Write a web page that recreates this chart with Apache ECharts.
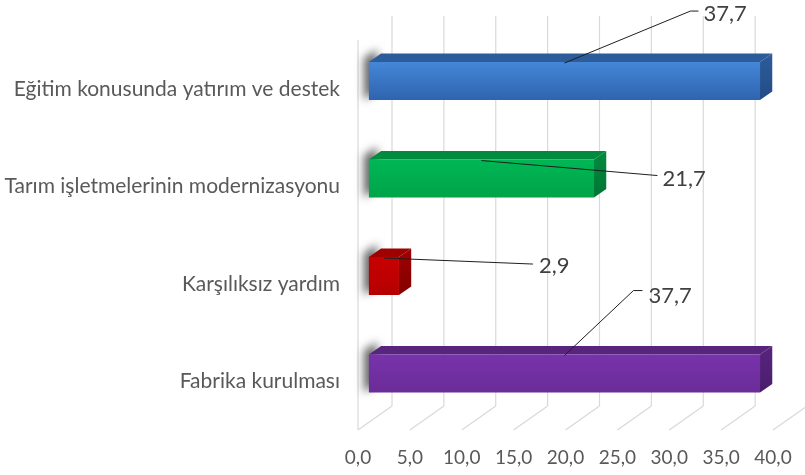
<!DOCTYPE html>
<html>
<head>
<meta charset="utf-8">
<script src="https://cdn.jsdelivr.net/npm/echarts@6/dist/echarts.min.js"></script>
<style>
  html, body { margin: 0; padding: 0; background: #ffffff; }
  #chart { width: 805px; height: 475px; }
</style>
</head>
<body>
<div id="chart"></div>
<script>
// Categories (top to bottom) and their percentages
const categories = [
  'Eğitim konusunda yatırım ve destek',
  'Tarım işletmelerinin modernizasyonu',
  'Karşılıksız yardım',
  'Fabrika kurulması'
];
const values = [37.7, 21.7, 2.9, 37.7];
const tickValues = [0, 5, 10, 15, 20, 25, 30, 35, 40];

// Face colours for each bar: [front top, front bottom, top face, side face]
const barColors = [
  ['#4486d8', '#2f64ae', '#2d5c9b', '#234c86'],
  ['#00b755', '#00a448', '#008b3e', '#007534'],
  ['#c80000', '#b50000', '#9f0000', '#850000'],
  ['#7833aa', '#6a2c98', '#57247e', '#4a1e6c']
];

// Oblique depth vector of the 3D box (pixels, front plane -> back wall)
const DEPTH = [34, -24];
const BAR_FRONT = 0.32, BAR_BACK = 0.68, BAR_THICK = 0.39;

// Leader line / label placement relative to the bar's midpoint on its top edge
const labelLayout = [
  { pts: [[126, -52], [134, -52]], text: [139, -49] },
  { pts: [[176, 15]], text: [181, 18] },
  { pts: [[149, 6]], text: [155, 8] },
  { pts: [[69, -65], [78, -65]], text: [84, -60] }
];

const FONT = 'Lato';
const fmt = v => v.toFixed(1).replace('.', ',');

function renderWall(params, api) {
  const v = api.value(0);
  const cs = params.coordSys;
  const x = api.coord([v, 0])[0];
  const top = cs.y, bottom = cs.y + cs.height;
  const line = { stroke: '#d9d9d9', lineWidth: 1.2 };
  const children = [
    { type: 'line', shape: { x1: x + DEPTH[0], y1: top + DEPTH[1], x2: x + DEPTH[0], y2: bottom + DEPTH[1] }, style: line },
    { type: 'line', shape: { x1: x, y1: bottom, x2: x + DEPTH[0], y2: bottom + DEPTH[1] }, style: line }
  ];
  if (v === 0) {
    children.push({ type: 'line', shape: { x1: x, y1: top, x2: x, y2: bottom }, style: line });
  }
  return { type: 'group', children };
}

function renderBar(params, api) {
  const val = api.value(0);
  const cat = api.value(1);
  const idx = params.dataIndex;
  const band = api.size([0, 1])[1];
  const base = api.coord([0, cat]);
  const end = api.coord([val, cat]);
  const mid = api.coord([val / 2, cat]);
  const h = band * BAR_THICK;
  const fx = DEPTH[0] * BAR_FRONT, fy = DEPTH[1] * BAR_FRONT;
  const dx = DEPTH[0] * (BAR_BACK - BAR_FRONT), dy = DEPTH[1] * (BAR_BACK - BAR_FRONT);
  const xl = base[0] + fx, xr = end[0] + fx;
  const yc = base[1] + fy;
  const yt = yc - h / 2, yb = yc + h / 2;
  const c = barColors[idx];
  const OFF = 2000;

  const children = [];
  // soft shadow of the bar's left end on the side wall (shape is kept
  // off-canvas, only its blurred shadow lands next to the bar)
  children.push({
    type: 'polygon',
    shape: { points: [[xl - 5 - OFF, yt - 4], [xl + dx - 4 - OFF, yt + dy - 4], [xl + dx - 4 - OFF, yb + dy], [xl - 5 - OFF, yb]] },
    style: { fill: '#000', shadowBlur: 8, shadowOffsetX: OFF, shadowColor: 'rgba(0,0,0,0.6)' }
  });
  // top face
  children.push({
    type: 'polygon',
    shape: { points: [[xl, yt], [xr, yt], [xr + dx, yt + dy], [xl + dx, yt + dy]] },
    style: { fill: c[2] }
  });
  // right side face
  children.push({
    type: 'polygon',
    shape: { points: [[xr, yt], [xr + dx, yt + dy], [xr + dx, yb + dy], [xr, yb]] },
    style: {
      fill: new echarts.graphic.LinearGradient(0, 0, 0, 1, [
        { offset: 0, color: c[2] }, { offset: 1, color: c[3] }
      ])
    }
  });
  // front face
  children.push({
    type: 'rect',
    shape: { x: xl, y: yt, width: xr - xl, height: h },
    style: {
      fill: new echarts.graphic.LinearGradient(0, 0, 0, 1, [
        { offset: 0, color: c[0] }, { offset: 1, color: c[1] }
      ])
    }
  });

  // leader line and value label
  const sx = mid[0] + fx, sy = yt + 1;
  const lay = labelLayout[idx];
  const pts = [[sx, sy]].concat(lay.pts.map(p => [sx + p[0], sy + p[1]]));
  children.push({
    type: 'polyline',
    shape: { points: pts },
    style: { stroke: '#1f1f1f', lineWidth: 1, fill: null }
  });
  children.push({
    type: 'text',
    style: {
      x: sx + lay.text[0], y: sy + lay.text[1],
      text: fmt(val),
      fill: '#404040',
      font: '22px ' + FONT,
      align: 'left', verticalAlign: 'middle'
    }
  });
  return { type: 'group', children };
}

const chart = echarts.init(document.getElementById('chart'), null, { renderer: 'canvas' });
chart.setOption({
  backgroundColor: '#ffffff',
  animation: false,
  grid: { left: 358, right: 32, top: 40, bottom: 45, containLabel: false },
  xAxis: {
    type: 'value', min: 0, max: 40, interval: 5,
    axisLine: { show: false }, axisTick: { show: false }, splitLine: { show: false },
    axisLabel: {
      formatter: v => fmt(v), color: '#595959', fontFamily: FONT, fontSize: 19,
      margin: 18, lineHeight: 20
    }
  },
  yAxis: {
    type: 'category', data: categories, inverse: true,
    axisLine: { show: false }, axisTick: { show: false }, splitLine: { show: false },
    axisLabel: { color: '#595959', fontFamily: FONT, fontSize: 21, margin: 18, padding: [5, 0, 0, 0] }
  },
  series: [
    {
      type: 'custom', z: 1, silent: true,
      renderItem: renderWall,
      data: tickValues.map(v => [v]),
      encode: { x: 0 }
    },
    {
      type: 'custom', z: 2,
      renderItem: renderBar,
      data: values.map((v, i) => [v, i]),
      encode: { x: 0, y: 1 }
    }
  ]
});
</script>
</body>
</html>
